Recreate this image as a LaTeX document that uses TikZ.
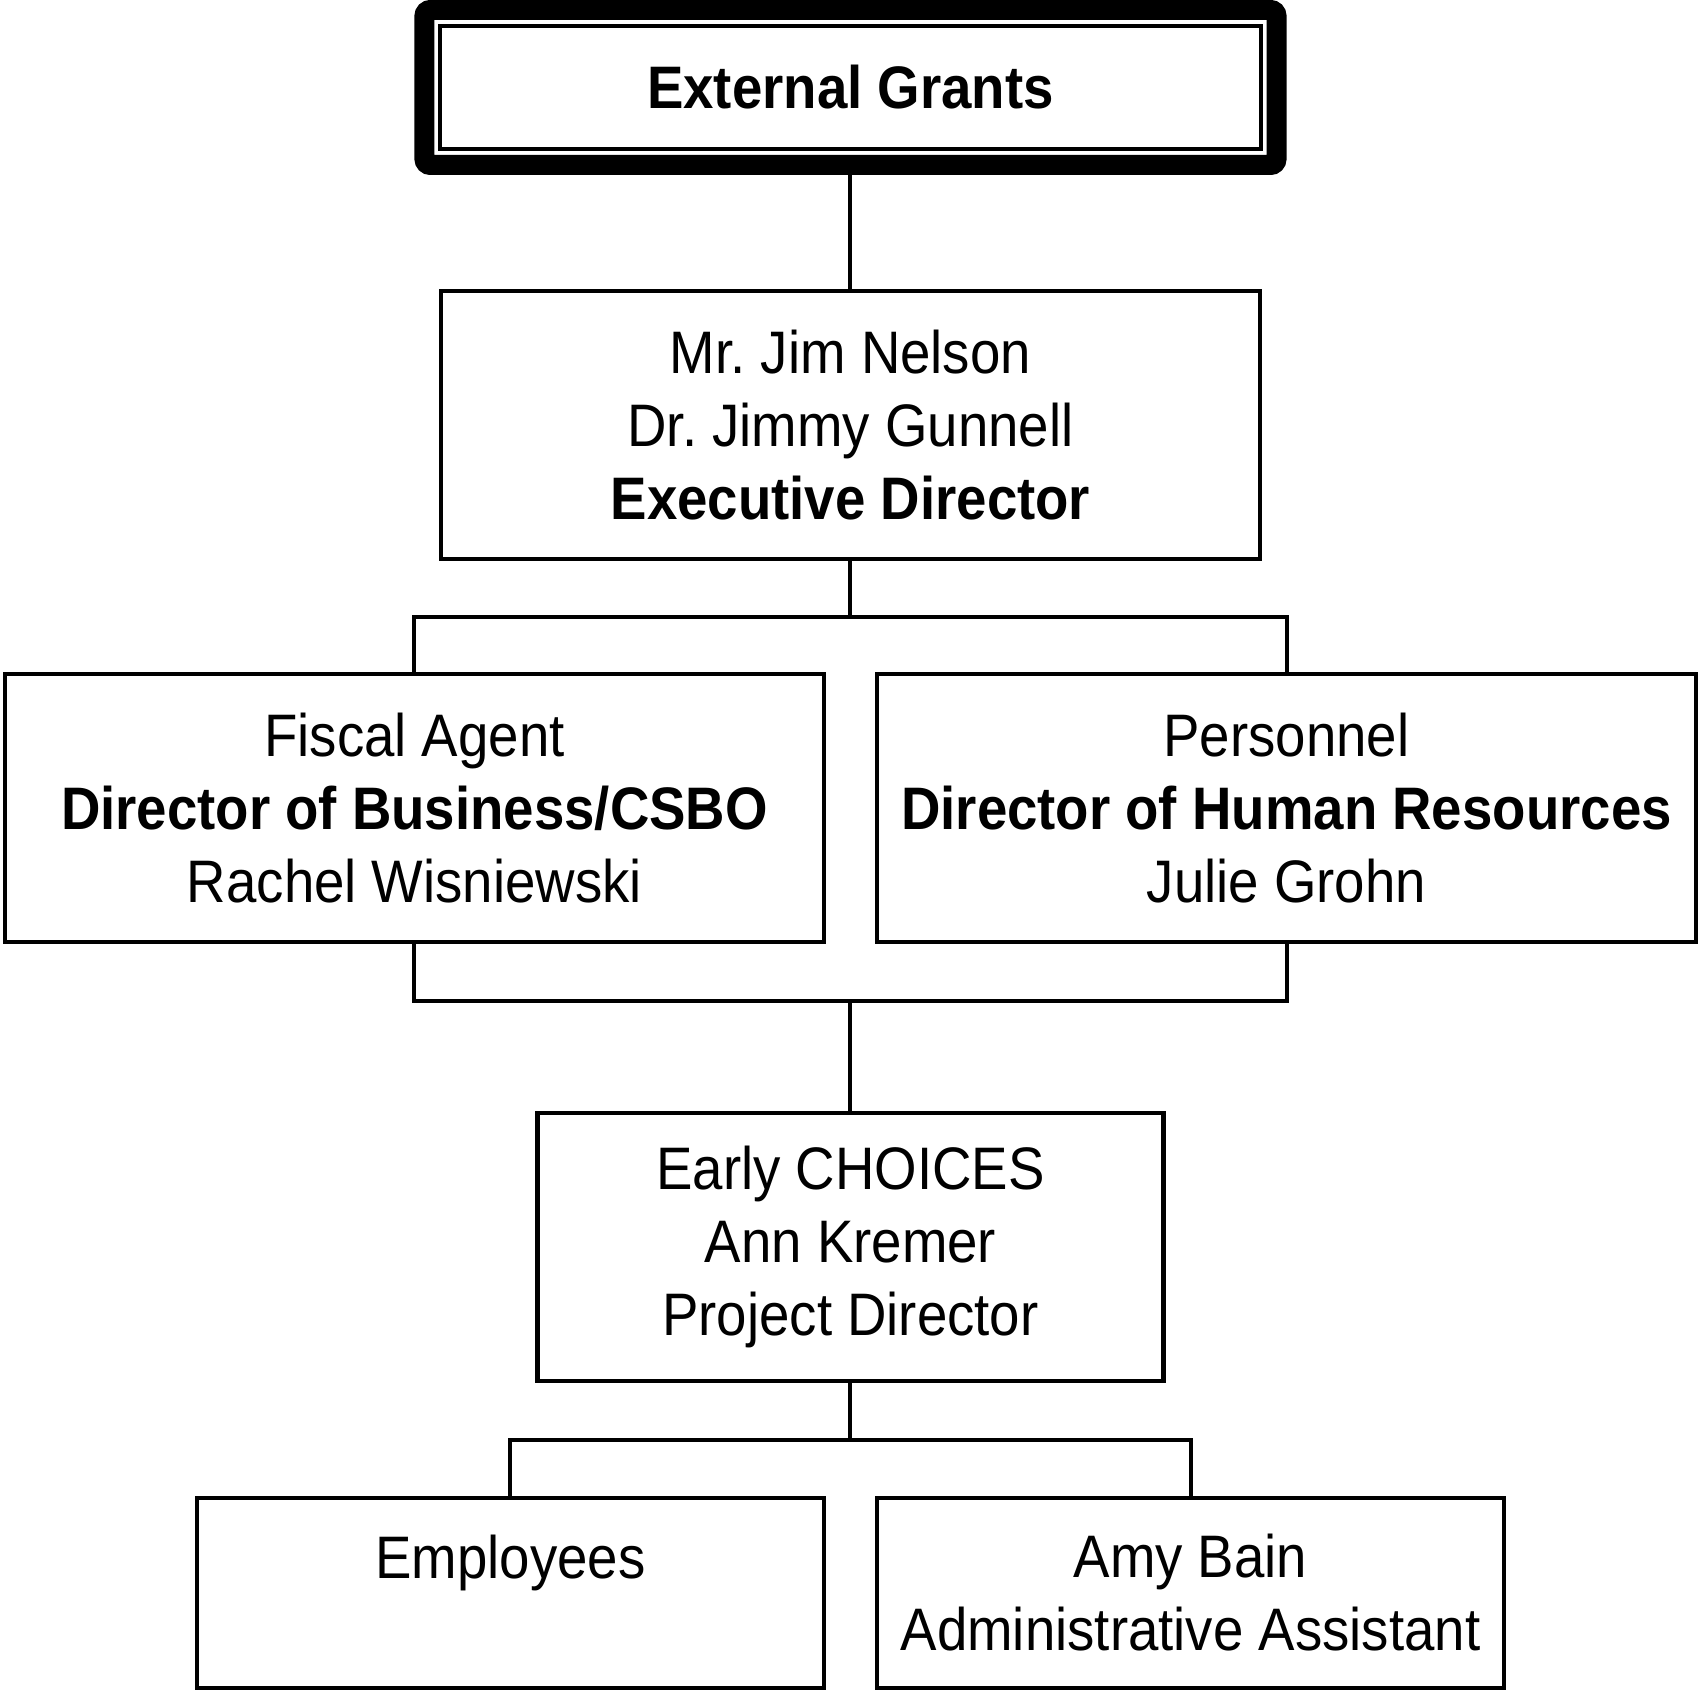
\documentclass[tikz,border=0pt]{standalone}
\usepackage{fontspec}
\setmainfont{Liberation Sans}[FakeStretch=0.91]
\usepackage{tikz}
\usetikzlibrary{positioning, fit, calc}
\frenchspacing

\begin{document}
\begin{tikzpicture}[
    orgbox/.style={rectangle, draw, line width=2.25pt, align=center, inner sep=0pt, outer sep=0pt,
        font=\fontsize{30}{36.5}\selectfont},
    grantbox/.style={orgbox, line width=2pt, minimum width=410pt, minimum height=61.5pt},
    frame/.style={rectangle, draw, line width=10pt, rounded corners=3pt, inner sep=8pt},
    headbox/.style={orgbox, minimum width=409.5pt, minimum height=134pt},
    projbox/.style={orgbox, minimum width=313pt, minimum height=134pt},
    staffbox/.style={orgbox, minimum width=313.5pt, minimum height=95pt},
    link/.style={draw, line width=2pt}
]
    % Top
    \node[grantbox] (grants) {\textbf{External Grants}};
    \node[frame, fit=(grants)] (frame) {};
    \useasboundingbox ($(grants.center)+(-425.25pt,43.75pt)$) rectangle ($(grants.center)+(423.75pt,-801.25pt)$);

    % Executive
    \node[headbox, below=71pt of grants] (exec) {Mr. Jim Nelson\\Dr. Jimmy Gunnell\\\textbf{Executive Director}};

    % Fiscal agent and personnel
    \node[headbox, below left=57.5pt and 13.25pt of exec.south] (fiscal) {Fiscal Agent\\\textbf{Director of Business/CSBO}\\Rachel Wisniewski};
    \node[headbox, below right=57.5pt and 13.25pt of exec.south] (personnel) {Personnel\\\textbf{Director of Human Resources}\\Julie Grohn};

    % Project
    \node[projbox, below=85.5pt of $(fiscal.south)!0.5!(personnel.south)$] (early) {Early CHOICES\\Ann Kremer\\Project Director};

    % Staff
    \node[staffbox, below left=58.5pt and 13.25pt of early.south] (staff) {Employees\\\mbox{}};
    \node[staffbox, below right=58.5pt and 13.25pt of early.south] (assistant) {Amy Bain\\Administrative Assistant};

    % Connectors
    \draw[link] (frame.south) -- (exec.north);
    \coordinate (split1) at ($(exec.south)!0.5!(exec.south |- fiscal.north)$);
    \draw[link] (exec.south) -- (split1) -| (fiscal.north);
    \draw[link] (split1) -| (personnel.north);
    \coordinate (join1) at ([yshift=-29.5pt]early.north |- fiscal.south);
    \draw[link] (fiscal.south) |- (join1) -| (personnel.south);
    \draw[link] (join1) -- (early.north);
    \coordinate (split2) at ($(early.south)!0.5!(early.south |- staff.north)$);
    \draw[link] (early.south) -- (split2) -| (staff.north);
    \draw[link] (split2) -| (assistant.north);
\end{tikzpicture}
\end{document}
